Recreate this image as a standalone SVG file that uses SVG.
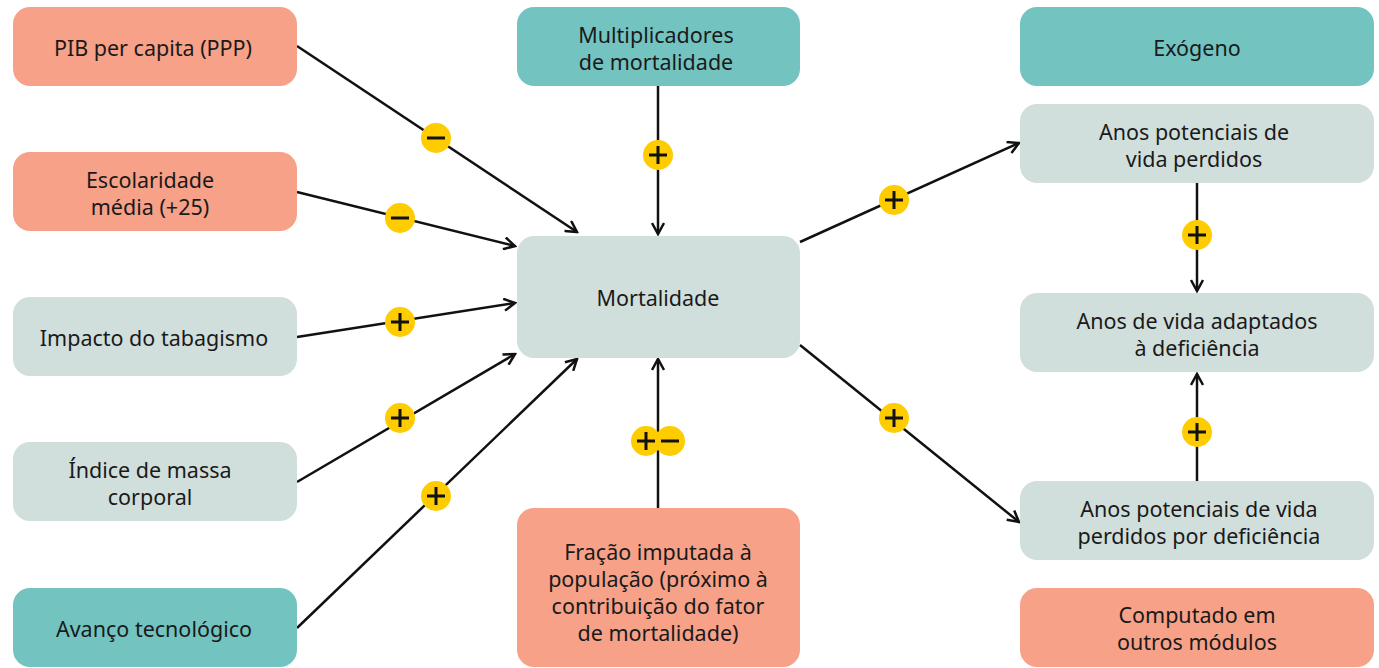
<svg xmlns="http://www.w3.org/2000/svg" width="1379" height="668" viewBox="0 0 1379 668">
<defs>
<style>
.salmon{fill:#F6A188}
.light{fill:#D1DFDC}
.teal{fill:#73C3C0}
text{font-family:"Noto Sans","Open Sans",sans-serif;font-size:21.5px;fill:#1a1a1a;text-anchor:middle;dominant-baseline:central}
.c{stroke:#111;stroke-width:2.5;fill:none;marker-end:url(#ah)}
.b{fill:#FFCC00}
.s{stroke:#111;stroke-width:3;fill:none}
</style>
<marker id="ah" viewBox="0 0 14 14" refX="12" refY="7" markerWidth="14" markerHeight="14" markerUnits="userSpaceOnUse" orient="auto">
<path d="M1,1 L12,7 L1,13" fill="none" stroke="#111" stroke-width="2.5"/>
</marker>
</defs>
<rect width="1379" height="668" fill="#fff"/>

<g id="connectors">
<line class="c" x1="297" y1="46" x2="577" y2="232"/>
<line class="c" x1="297" y1="192" x2="515" y2="246"/>
<line class="c" x1="297" y1="337" x2="515" y2="303"/>
<line class="c" x1="297" y1="482" x2="515" y2="354"/>
<line class="c" x1="297" y1="628" x2="577" y2="359"/>
<line class="c" x1="658" y1="86" x2="658" y2="234"/>
<line class="c" x1="658" y1="508" x2="658" y2="359"/>
<line class="c" x1="800" y1="242" x2="1019" y2="143"/>
<line class="c" x1="800" y1="345" x2="1019" y2="522"/>
<line class="c" x1="1197" y1="183" x2="1197" y2="291"/>
<line class="c" x1="1197" y1="481" x2="1197" y2="374"/>
</g>

<g id="badges">
<g id="b-pib"><circle class="b" cx="436" cy="138" r="15"/><path class="s" d="M427,138h18"/></g>
<g id="b-esc"><circle class="b" cx="400" cy="218" r="15"/><path class="s" d="M391,218h18"/></g>
<g id="b-tab"><circle class="b" cx="400" cy="322" r="15"/><path class="s" d="M391,322h18M400,313v18"/></g>
<g id="b-imc"><circle class="b" cx="400" cy="418" r="15"/><path class="s" d="M391,418h18M400,409v18"/></g>
<g id="b-tec"><circle class="b" cx="436" cy="496" r="15"/><path class="s" d="M427,496h18M436,487v18"/></g>
<g id="b-mult"><circle class="b" cx="658" cy="155" r="15"/><path class="s" d="M649,155h18M658,146v18"/></g>
<g id="b-frac"><circle class="b" cx="670" cy="441" r="15"/><circle class="b" cx="646" cy="441" r="15"/><path class="s" d="M637,441h18M646,432v18M661,441h18"/></g>
<g id="b-apvp"><circle class="b" cx="894" cy="200" r="15"/><path class="s" d="M885,200h18M894,191v18"/></g>
<g id="b-apvpd"><circle class="b" cx="894" cy="418" r="15"/><path class="s" d="M885,418h18M894,409v18"/></g>
<g id="b-r1"><circle class="b" cx="1197" cy="235" r="15"/><path class="s" d="M1188,235h18M1197,226v18"/></g>
<g id="b-r2"><circle class="b" cx="1197" cy="432" r="15"/><path class="s" d="M1188,432h18M1197,423v18"/></g>
</g>

<g id="n-pib"><rect class="salmon" x="13" y="7" width="284" height="79" rx="17"/><text x="153" y="47">PIB per capita (PPP)</text></g>
<g id="n-esc"><rect class="salmon" x="13" y="152" width="284" height="79" rx="17"/><text x="150" y="179">Escolaridade</text><text x="150" y="206">média (+25)</text></g>
<g id="n-tab"><rect class="light" x="13" y="297" width="284" height="79" rx="17"/><text x="154" y="337">Impacto do tabagismo</text></g>
<g id="n-imc"><rect class="light" x="13" y="442" width="284" height="79" rx="17"/><text x="150" y="469">Índice de massa</text><text x="150" y="496">corporal</text></g>
<g id="n-tec"><rect class="teal" x="13" y="588" width="284" height="79" rx="17"/><text x="154" y="628">Avanço tecnológico</text></g>

<g id="n-mult"><rect class="teal" x="517" y="7" width="283" height="79" rx="17"/><text x="656" y="34">Multiplicadores</text><text x="656" y="61">de mortalidade</text></g>
<g id="n-mort"><rect class="light" x="517" y="236" width="283" height="122" rx="17"/><text x="658" y="297">Mortalidade</text></g>
<g id="n-frac"><rect class="salmon" x="517" y="508" width="283" height="159" rx="17"/><text x="658" y="551">Fração imputada à</text><text x="658" y="578">população (próximo à</text><text x="658" y="605">contribuição do fator</text><text x="658" y="632">de mortalidade)</text></g>

<g id="n-exo"><rect class="teal" x="1020" y="7" width="354" height="79" rx="17"/><text x="1197" y="47">Exógeno</text></g>
<g id="n-apvp"><rect class="light" x="1020" y="104" width="354" height="79" rx="17"/><text x="1194" y="131">Anos potenciais de</text><text x="1194" y="158">vida perdidos</text></g>
<g id="n-avad"><rect class="light" x="1020" y="293" width="354" height="79" rx="17"/><text x="1197" y="320">Anos de vida adaptados</text><text x="1197" y="347">à deficiência</text></g>
<g id="n-apvpd"><rect class="light" x="1020" y="481" width="354" height="79" rx="17"/><text x="1199" y="508">Anos potenciais de vida</text><text x="1199" y="535">perdidos por deficiência</text></g>
<g id="n-comp"><rect class="salmon" x="1020" y="588" width="354" height="79" rx="17"/><text x="1197" y="614">Computado em</text><text x="1197" y="641">outros módulos</text></g>
</svg>
